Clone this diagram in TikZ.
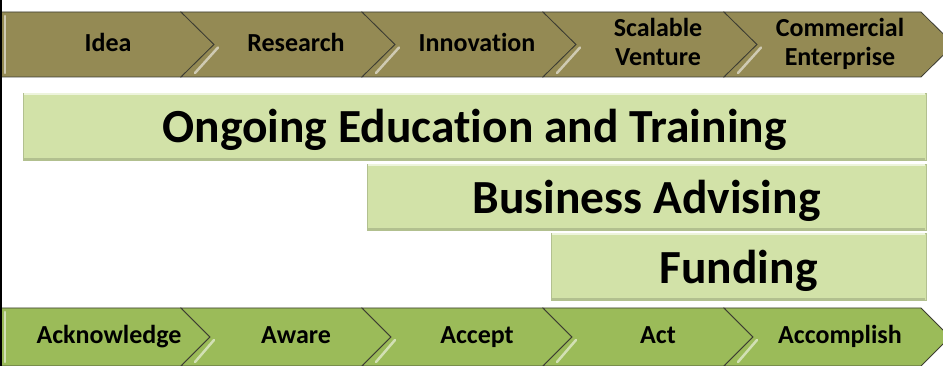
\documentclass[tikz,border=0pt]{standalone}
\usepackage{fontspec}
\setmainfont{Carlito}[Ligatures=NoCommon]
\definecolor{olivebar}{RGB}{148,138,84}
\definecolor{greenbar}{RGB}{155,187,89}
\definecolor{lightbox}{RGB}{210,226,168}
\definecolor{edgedark}{RGB}{60,60,50}
\begin{document}
\begin{tikzpicture}[x=1pt,y=1pt,
  olivechev/.style={fill=olivebar,draw=edgedark,line width=0.8pt,line join=miter},
  greenchev/.style={fill=greenbar,draw=edgedark,line width=0.8pt,line join=miter},
  hilite/.style={draw=#1,line width=2.5pt,line cap=round},
  bigbox/.style={fill=lightbox,draw=lightbox!85!black,line width=0.6pt},
  smalltxt/.style={font=\bfseries\fontsize{26}{29}\selectfont,align=center,text=black,anchor=base,inner sep=0pt},
  bigtxt/.style={font=\bfseries\fontsize{47.5}{50}\selectfont,text=black,anchor=base,inner sep=0pt}]
\useasboundingbox (0,0) rectangle (943,366);
% ---------- top chevrons ----------
\def\tyT{354}\def\tyB{289}\def\tyM{321.5}\def\td{33}
\path[olivechev] (0,\tyT) -- (181,\tyT) -- (214,\tyM) -- (181,\tyB) -- (0,\tyB) -- cycle;
\foreach \a/\b in {181/362,362/543,543/724,724/921}{
  \path[olivechev] (\a,\tyT) -- (\b,\tyT) -- ({\b+\td},\tyM) -- (\b,\tyB) -- (\a,\tyB) -- ({\a+\td},\tyM) -- cycle;
  \draw[hilite=olivebar!45!white] ({\a+\td+4},{\tyM-3}) -- ({\a+14},{\tyB+4});
}
\draw[hilite=olivebar!45!white] (5,\tyT-4) -- (5,\tyB+4);
\node[smalltxt] (t1) at (108,314.3) {Idea};
\node[smalltxt] (t2) at (296,314.3) {Research};
\node[smalltxt] (t3) at (477,314.3) {Innovation};
\node[smalltxt] (t4) at (658,300.3) {Scalable\\Venture};
\node[smalltxt] (t5) at (840,300.3) {Commercial\\Enterprise};
% ---------- bottom chevrons ----------
\def\byT{58}\def\byB{0}\def\byM{29}\def\bd{29}
\path[greenchev] (0,\byT) -- (181,\byT) -- (210,\byM) -- (181,\byB) -- (0,\byB) -- cycle;
\foreach \a/\b in {181/362,362/543,543/724,724/921}{
  \path[greenchev] (\a,\byT) -- (\b,\byT) -- ({\b+\bd},\byM) -- (\b,\byB) -- (\a,\byB) -- ({\a+\bd},\byM) -- cycle;
  \draw[hilite=greenbar!45!white] ({\a+\bd+4},{\byM-3}) -- ({\a+14},{\byB+4});
}
\draw[hilite=greenbar!45!white] (5,\byT-4) -- (5,\byB+4);
\node[smalltxt] (b1) at (109,22) {Acknowledge};
\node[smalltxt] (b2) at (296,22) {Aware};
\node[smalltxt] (b3) at (477,22) {Accept};
\node[smalltxt] (b4) at (658,22) {Act};
\node[smalltxt] (b5) at (840,22) {Accomplish};
% ---------- boxes ----------
\path[bigbox] (23,206) rectangle (926,273);
\draw[white!60!lightbox,line width=1.5pt] (24,272) -- (925,272);
\draw[lightbox!85!black,line width=1.2pt] (24,207) -- (925,207);
\node[bigtxt] (ongoing) at (474.5,223.5) {Ongoing Education and Training};
\path[bigbox] (367,136) rectangle (926,202);
\draw[white!60!lightbox,line width=1.5pt] (368,201) -- (925,201);
\draw[lightbox!85!black,line width=1.2pt] (368,137) -- (925,137);
\node[bigtxt] (advising) at (646.5,152.7) {Business Advising};
\path[bigbox] (551,66) rectangle (926,133);
\draw[white!60!lightbox,line width=1.5pt] (552,132) -- (925,132);
\draw[lightbox!85!black,line width=1.2pt] (552,67) -- (925,67);
\node[bigtxt] (funding) at (738.5,82.7) {Funding};
% left border line
\draw[black,line width=2pt] (1,0) -- (1,366);
\end{tikzpicture}
\end{document}
